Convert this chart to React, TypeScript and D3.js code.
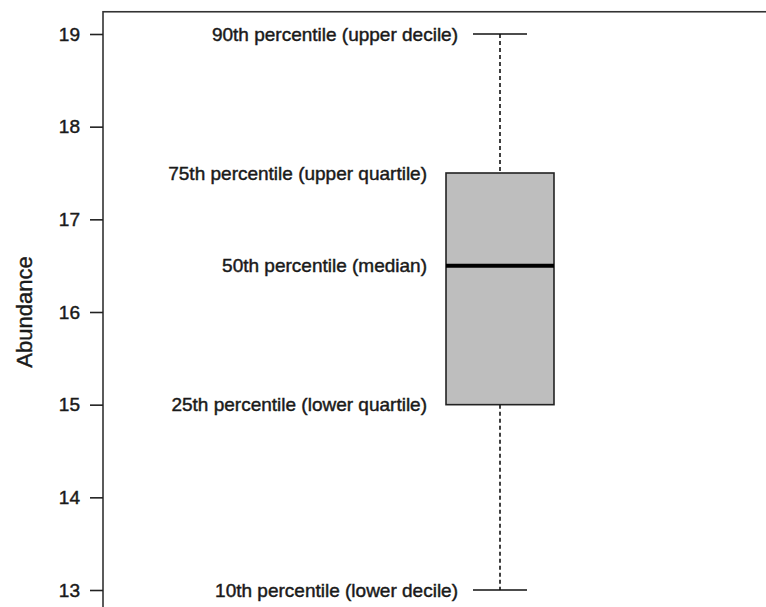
import { useEffect, useRef } from "react";
import * as d3 from "d3";

// summary statistics of the box plot
const statNames = [
  "10th percentile (lower decile)",
  "25th percentile (lower quartile)",
  "50th percentile (median)",
  "75th percentile (upper quartile)",
  "90th percentile (upper decile)",
];
const statValues = [13, 15, 16.5, 17.5, 19];
const yTicks = [13, 14, 15, 16, 17, 18, 19];

const width = 766;
const height = 607;
const font = "'Liberation Sans', Arial, sans-serif";

const App = () => {
  const svgRef = useRef<SVGSVGElement>(null);

  useEffect(() => {
    const svg = d3.select(svgRef.current);
    svg.selectAll("*").remove();

    const [p10, p25, p50, p75, p90] = statValues;
    const left = 103;
    const y = d3.scaleLinear().domain([13, 19]).range([590, 34]);
    const x = d3.scaleLinear().domain([0, 1]).range([left, 897]);
    const boxW = 0.136;
    const capW = boxW / 2;
    const ext = (19 - 13) * 0.04;
    const ink = "#1a1a1a";

    // frame (extends beyond the visible area)
    svg
      .append("rect")
      .attr("x", left)
      .attr("y", y(19 + ext))
      .attr("width", x(1) - left)
      .attr("height", y(13 - ext) - y(19 + ext))
      .attr("fill", "none")
      .attr("stroke", "#333")
      .attr("stroke-width", 1.6);

    // y axis
    const yAxis = d3
      .axisLeft(y)
      .tickValues(yTicks)
      .tickFormat(d3.format("d"))
      .tickSizeInner(13)
      .tickSizeOuter(0)
      .tickPadding(10);
    const ag = svg.append("g").attr("transform", `translate(${left},0)`).call(yAxis);
    ag.select(".domain").remove();
    ag.selectAll("line").attr("stroke", "#222").attr("stroke-width", 1.6);
    ag.selectAll("text")
      .attr("fill", ink)
      .attr("stroke", ink)
      .attr("stroke-width", 0.45)
      .style("font-family", font)
      .style("font-size", "19px");

    svg
      .append("text")
      .attr("transform", `translate(32,${y(16)}) rotate(-90)`)
      .attr("text-anchor", "middle")
      .attr("fill", ink)
      .attr("stroke", ink)
      .attr("stroke-width", 0.4)
      .style("font-family", font)
      .style("font-size", "22px")
      .text("Abundance");

    const g = svg.append("g");
    const cx = x(0.5);

    // whiskers
    [
      [p90, p75],
      [p25, p10],
    ].forEach(([a, b]) => {
      g.append("line")
        .attr("x1", cx)
        .attr("x2", cx)
        .attr("y1", y(a))
        .attr("y2", y(b))
        .attr("stroke", "#111")
        .attr("stroke-width", 1.6)
        .attr("stroke-dasharray", "4,3");
    });
    [p10, p90].forEach((v) => {
      g.append("line")
        .attr("x1", x(0.5 - capW / 2))
        .attr("x2", x(0.5 + capW / 2))
        .attr("y1", y(v))
        .attr("y2", y(v))
        .attr("stroke", "#111")
        .attr("stroke-width", 1.6);
    });

    // box
    g.append("rect")
      .attr("x", x(0.5 - boxW / 2))
      .attr("y", y(p75))
      .attr("width", x(0.5 + boxW / 2) - x(0.5 - boxW / 2))
      .attr("height", y(p25) - y(p75))
      .attr("fill", "#bebebe")
      .attr("stroke", "#222")
      .attr("stroke-width", 1.6);
    g.append("line")
      .attr("x1", x(0.5 - boxW / 2))
      .attr("x2", x(0.5 + boxW / 2))
      .attr("y1", y(p50))
      .attr("y2", y(p50))
      .attr("stroke", "#000")
      .attr("stroke-width", 4);

    // annotations
    g.selectAll("text.stat")
      .data(statNames.map((name, i) => ({ name, value: statValues[i], cap: i === 0 || i === 4 })))
      .enter()
      .append("text")
      .attr("class", "stat")
      .attr("x", (d) => (d.cap ? x(0.5 - capW / 2) - 15 : x(0.5 - boxW / 2) - 19))
      .attr("y", (d) => y(d.value))
      .attr("dy", "0.35em")
      .attr("text-anchor", "end")
      .attr("fill", ink)
      .attr("stroke", ink)
      .attr("stroke-width", 0.45)
      .style("font-family", font)
      .style("font-size", "19px")
      .text((d) => d.name);
  }, []);

  return (
    <svg
      ref={svgRef}
      width={width}
      height={height}
      style={{ position: "absolute", left: 0, top: 0, background: "#fff" }}
    ></svg>
  );
};

export default App;
